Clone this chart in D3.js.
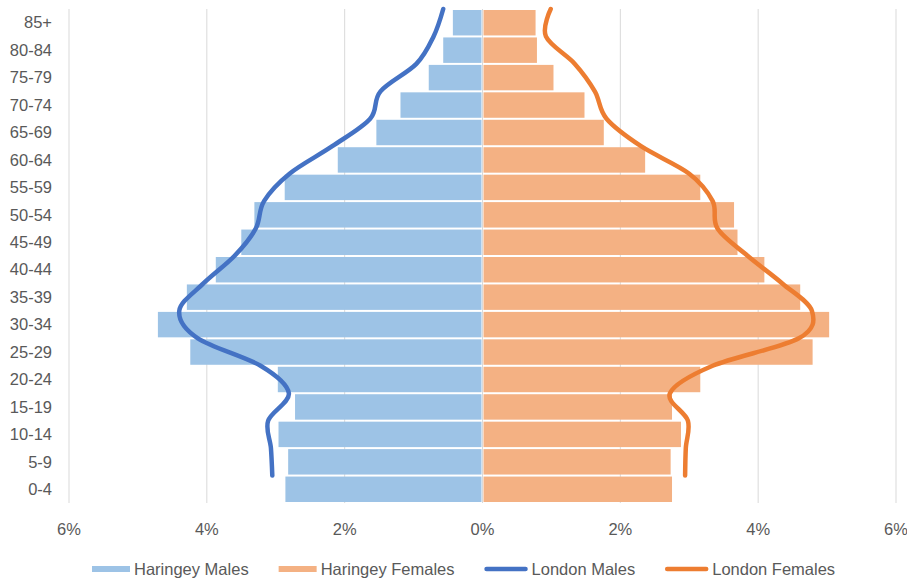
<!DOCTYPE html>
<html>
<head>
<meta charset="utf-8">
<script src="https://cdn.jsdelivr.net/npm/d3@7"></script>
<style>
  body { margin: 0; background: #fff; }
  text { font-family: "Liberation Sans", Arial, sans-serif; fill: #595959; }
</style>
</head>
<body>
<div id="chart"></div>
<script>
// age bands, bottom to top
const categories = ["0-4", "5-9", "10-14", "15-19", "20-24", "25-29", "30-34", "35-39", "40-44",
	"45-49", "50-54", "55-59", "60-64", "65-69", "70-74", "75-79", "80-84", "85+"];
// % of total population
const haringeyMales = [2.86, 2.82, 2.96, 2.72, 2.97, 4.24, 4.71, 4.29, 3.87, 3.50, 3.31, 2.87, 2.10, 1.54, 1.19, 0.78, 0.57, 0.43];
const haringeyFemales = [2.75, 2.73, 2.88, 2.75, 3.16, 4.79, 5.03, 4.61, 4.09, 3.70, 3.65, 3.16, 2.36, 1.76, 1.48, 1.03, 0.79, 0.77];
const londonMales = [3.05, 3.07, 3.11, 2.81, 3.22, 4.13, 4.40, 4.05, 3.60, 3.29, 3.17, 2.80, 2.18, 1.63, 1.48, 0.96, 0.71, 0.57];
const londonFemales = [2.94, 2.95, 2.98, 2.72, 3.34, 4.59, 4.78, 4.35, 3.85, 3.41, 3.34, 3.00, 2.30, 1.80, 1.63, 1.34, 0.92, 0.99];
const xTicks = [-6, -4, -2, 0, 2, 4, 6];
const legendItems = [
	{name: "Haringey Males", color: "#9DC3E6", type: "bar"},
	{name: "Haringey Females", color: "#F4B183", type: "bar"},
	{name: "London Males", color: "#4472C4", type: "line"},
	{name: "London Females", color: "#ED7D31", type: "line"}
];

const width = 907,
	height = 579,
	fontSize = 16.5;

const svg = d3.select("#chart").append("svg")
	.attr("width", width)
	.attr("height", height);

const x = d3.scaleLinear()
	.domain([-6, 6])
	.range([69, 896]);

const y = d3.scaleBand()
	.domain(categories.slice().reverse())
	.range([9, 503]);

const barGap = 2;

//gridlines
svg.append("g")
	.selectAll("line")
	.data(xTicks)
	.enter()
	.append("line")
	.attr("x1", d => x(d))
	.attr("x2", d => x(d))
	.attr("y1", y.range()[0])
	.attr("y2", y.range()[1])
	.attr("stroke", "#D9D9D9")
	.attr("stroke-width", 1);

//bars
const rows = categories.map((c, i) => ({cat: c, m: haringeyMales[i], f: haringeyFemales[i]}));

svg.append("g")
	.selectAll("rect")
	.data(rows)
	.enter()
	.append("rect")
	.attr("x", d => x(-d.m))
	.attr("y", d => y(d.cat) + barGap / 2)
	.attr("width", d => x(0) - 1 - x(-d.m))
	.attr("height", y.bandwidth() - barGap)
	.attr("fill", "#9DC3E6");

svg.append("g")
	.selectAll("rect")
	.data(rows)
	.enter()
	.append("rect")
	.attr("x", x(0) + 1)
	.attr("y", d => y(d.cat) + barGap / 2)
	.attr("width", d => x(d.f) - x(0) - 1)
	.attr("height", y.bandwidth() - barGap)
	.attr("fill", "#F4B183");

//london lines, points sit on the band boundaries
const line = d3.line()
	.x(d => x(d.v))
	.y(d => y(d.cat))
	.curve(d3.curveCatmullRom.alpha(0));

svg.append("path")
	.datum(categories.map((c, i) => ({cat: c, v: -londonMales[i]})))
	.attr("d", line)
	.attr("fill", "none")
	.attr("stroke", "#4472C4")
	.attr("stroke-width", 4.5)
	.attr("stroke-linecap", "round");

svg.append("path")
	.datum(categories.map((c, i) => ({cat: c, v: londonFemales[i]})))
	.attr("d", line)
	.attr("fill", "none")
	.attr("stroke", "#ED7D31")
	.attr("stroke-width", 4.5)
	.attr("stroke-linecap", "round");

//category labels
svg.append("g")
	.selectAll("text")
	.data(categories)
	.enter()
	.append("text")
	.attr("x", 52)
	.attr("y", d => y(d) + y.bandwidth() / 2)
	.attr("dy", ".35em")
	.attr("text-anchor", "end")
	.attr("font-size", fontSize)
	.text(d => d);

//x tick labels
svg.append("g")
	.selectAll("text")
	.data(xTicks)
	.enter()
	.append("text")
	.attr("x", d => x(d))
	.attr("y", 535)
	.attr("text-anchor", "middle")
	.attr("font-size", fontSize)
	.text(d => Math.abs(d) + "%");

//legend
const legend = svg.append("g");
let lx = 92;
legendItems.forEach(item => {
	const sw = item.type === "bar" ? 38 : 43;
	if (item.type === "bar") {
		legend.append("rect")
			.attr("x", lx)
			.attr("y", 566)
			.attr("width", sw)
			.attr("height", 6)
			.attr("fill", item.color);
	} else {
		legend.append("line")
			.attr("x1", lx + 2)
			.attr("x2", lx + sw - 2)
			.attr("y1", 569)
			.attr("y2", 569)
			.attr("stroke", item.color)
			.attr("stroke-width", 4.5)
			.attr("stroke-linecap", "round");
	}
	const t = legend.append("text")
		.attr("x", lx + sw + 4)
		.attr("y", 575)
		.attr("font-size", fontSize)
		.text(item.name);
	lx += sw + 4 + t.node().getComputedTextLength() + 30;
});
</script>
</body>
</html>
